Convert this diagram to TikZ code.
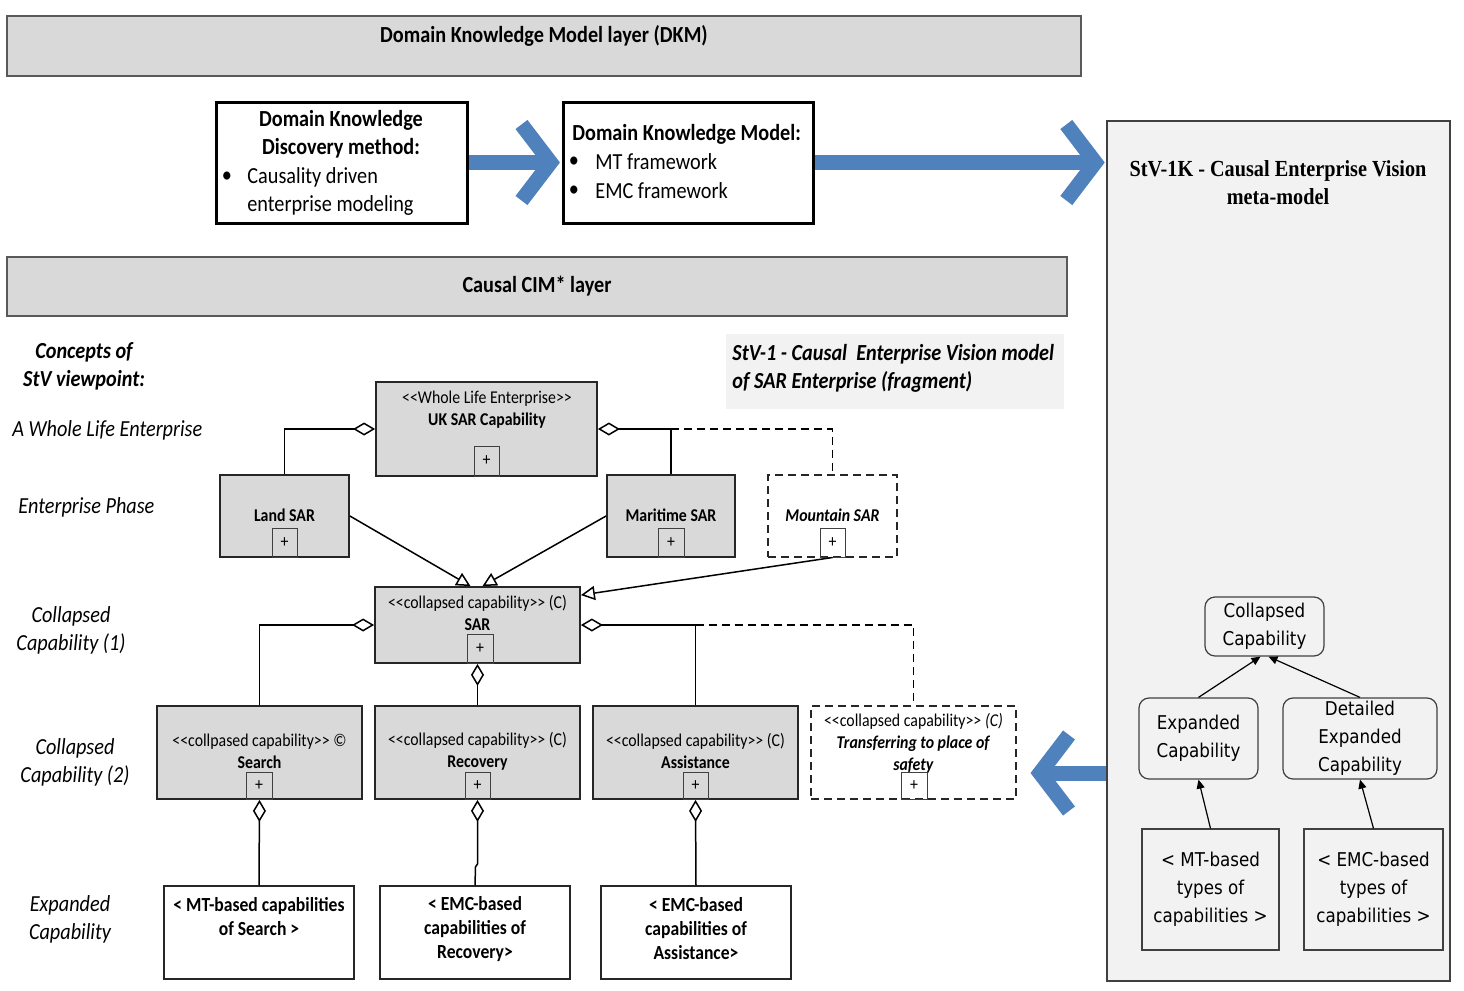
\documentclass[tikz,border=0pt]{standalone}
\usepackage{fontspec}
\setmainfont{Carlito}[FakeStretch=0.88]
\newfontfamily\serifttl{Liberation Serif}[FakeStretch=0.88]
\newfontfamily\metafont{DejaVu Sans}[FakeStretch=0.88]
\usetikzlibrary{arrows.meta,fit,calc}
\newcommand\myll{<\kern0pt<}
\newcommand\mygg{>\kern0pt>}
\definecolor{boxgray}{HTML}{D9D9D9}
\definecolor{hdrborder}{HTML}{595959}
\definecolor{arrowblue}{HTML}{4F81BD}
\definecolor{lightbg}{HTML}{F2F2F2}
\definecolor{umlborder}{HTML}{262626}
\definecolor{metaborder}{HTML}{404040}
\tikzset{
 hdr/.style={draw=hdrborder, line width=0.75pt, fill=boxgray, inner sep=0pt},
 dkbox/.style={draw=black, line width=1.5pt, fill=white, inner sep=0pt},
 blueline/.style={draw=arrowblue, line width=7.5pt},
 chev/.style={blueline, line join=miter, line cap=butt},
 uml/.style={draw=umlborder, line width=0.9pt, fill=boxgray, inner sep=0pt},
 umldash/.style={draw=umlborder, line width=0.9pt, dash pattern=on 4pt off 2.5pt, fill=white, inner sep=0pt},
 plusbox/.style={draw=metaborder, line width=0.5pt, inner sep=0pt},
 plustxt/.style={inner sep=0pt, font=\fontsize{9}{11}\selectfont},
 agg/.style={draw=black, line width=0.75pt, {Diamond[open,length=11pt,width=6.5pt]}-},
 gen/.style={draw=black, line width=0.75pt, -{Triangle[open,length=7pt,width=7pt]}},
 dline/.style={draw=black, line width=0.75pt, dash pattern=on 4pt off 2.5pt},
 expbox/.style={draw=umlborder, line width=0.6pt, fill=white, inner sep=0pt},
 metaframe/.style={draw=metaborder, line width=0.7pt, fill=lightbg, inner sep=0pt},
 metabox/.style={draw=metaborder, line width=0.6pt, rounded corners=5pt, inner sep=0pt},
 metasq/.style={draw=metaborder, line width=0.6pt, inner sep=0pt},
 metatxt/.style={inner sep=0pt, align=center, font=\metafont\fontsize{9.5}{14}\selectfont},
 metaarr/.style={draw=black, line width=0.6pt, -{Triangle[length=4.5pt,width=4pt]}},
 metattl/.style={inner sep=0pt, align=center, font=\serifttl\fontsize{11.5}{14}\selectfont\bfseries},
 tb/.style={inner sep=0pt, font=\fontsize{11.5}{14}\selectfont},
 tbb/.style={inner sep=0pt, font=\fontsize{11.5}{14}\selectfont\bfseries},
 tbi/.style={inner sep=0pt, font=\fontsize{11.5}{14}\selectfont\itshape},
 tbbi/.style={inner sep=0pt, font=\fontsize{11.5}{14}\selectfont\bfseries\itshape},
 umltxt/.style={inner sep=0pt, align=center, font=\fontsize{9}{11}\selectfont},
 umlb/.style={inner sep=0pt, font=\fontsize{9}{11}\selectfont\bfseries},
 umlbi/.style={inner sep=0pt, font=\fontsize{9}{11}\selectfont\bfseries\itshape},
 exptxt/.style={inner sep=0pt, align=center, font=\fontsize{10}{12}\selectfont\bfseries},
}
\begin{document}
\begin{tikzpicture}[x=0.5pt,y=-0.5pt]
\fill[white] (0,0) rectangle (1464,991);
\useasboundingbox (0,0) rectangle (1464,991);

% headers
\node[hdr, fit={(7,16) (1081,76)}] (dkm) {};
\node[tbb] (dkmt) at (544,36) {Domain Knowledge Model layer (DKM)};
\node[hdr, fit={(7,257) (1067,316)}] (cim) {};
\node[tbb] (cimt) at (537,286) {Causal CIM* layer};

% DK boxes
\node[dkbox, fit={(216,102) (467,223)}] (dk1) {};
\node[tbb, align=center] (dk1t) at (341,134) {Domain Knowledge\\Discovery method:};
\node[tb] (dk1b) at (227,177) {\textbullet};
\node[tb, anchor=west, align=left] (dk1l) at (247,191) {Causality driven\\enterprise modeling};

\node[dkbox, fit={(563,102) (813,223)}] (dk2) {};
\node[tbb, anchor=west] (dk2t) at (572,134) {Domain Knowledge Model:};
\node[tb] (dk2b1) at (574,162) {\textbullet};
\node[tb] (dk2b2) at (574,191) {\textbullet};
\node[tb, anchor=west] (dk2l1) at (595,162) {MT framework};
\node[tb, anchor=west] (dk2l2) at (595,191) {EMC framework};

% meta-model frame
\node[metaframe, fit={(1107,121) (1450,981)}] (meta) {};
\node[metattl] (metat) at (1278,183) {StV-1K - Causal Enterprise Vision\\meta-model};

% blue arrows
\draw[blueline] (dk1.east) -- ($(dk2.west)+(-11,0)$);
\draw[chev] ($(dk2.west)+(-40,-38)$) -- ($(dk2.west)+(-11,0)$) -- ($(dk2.west)+(-40,38)$);
\coordinate (m1) at (dk2.east -| meta.west);
\draw[blueline] (dk2.east) -- ($(m1)+(-11,0)$);
\draw[chev] ($(m1)+(-40,-38)$) -- ($(m1)+(-11,0)$) -- ($(m1)+(-40,38)$);
\coordinate (a3y) at (0,773);
\coordinate (a3s) at (meta.west |- a3y);
\coordinate (a3t) at (1029,773);
\draw[blueline] (a3s) -- ($(a3t)+(11,0)$);
\draw[chev] ($(a3t)+(40,-38)$) -- ($(a3t)+(11,0)$) -- ($(a3t)+(40,38)$);

% StV-1 label
\node[fill=lightbg, fit={(726,334) (1064,409)}, inner sep=0pt] (stv) {};
\node[tbbi, anchor=west, align=left] (stvt) at (732,368) {StV-1 - Causal\ \ Enterprise Vision model\\of SAR Enterprise (fragment)};

% left labels
\node[tbbi, align=center] (lc) at (84,366) {Concepts of\\StV viewpoint:};
\node[tbi, anchor=west] (lw) at (12,430) {A Whole Life Enterprise};
\node[tbi, anchor=west] (lp) at (18,507) {Enterprise Phase};
\node[tbi, align=center] (lc1) at (71,630) {Collapsed\\Capability (1)};
\node[tbi, align=center] (lc2) at (75,762) {Collapsed\\Capability (2)};
\node[tbi, align=center] (le) at (70,919) {Expanded\\Capability};

% UML level 1
\node[uml, fit={(376,382) (597,476)}] (uk) {};
\node[umltxt] (ukt) at (487,410) {\myll Whole Life Enterprise\mygg\\\textbf{UK SAR Capability}};
\node[plusbox, fit={(474,446) (499,476)}] (ukp) {};
\node[plustxt] (ukpt) at (ukp.center) {+};

\node[uml, fit={(220,475) (349,557)}] (land) {};
\node[umlb] (landt) at (284.5,515) {Land SAR};
\node[plusbox, fit={(272,528) (297,557)}] (landp) {};
\node[plustxt] (landpt) at (landp.center) {+};

\node[uml, fit={(607,475) (735,557)}] (mar) {};
\node[umlb] (mart) at (671,515) {Maritime SAR};
\node[plusbox, fit={(658,528) (684,557)}] (marp) {};
\node[plustxt] (marpt) at (marp.center) {+};

\node[umldash, fit={(768,475) (897,557)}] (mtn) {};
\node[umlbi] (mtnt) at (832.5,515) {Mountain SAR};
\node[plusbox, fit={(820,528) (845,557)}] (mtnp) {};
\node[plustxt] (mtnpt) at (mtnp.center) {+};

\node[uml, fit={(375,587) (580,663)}] (sar) {};
\node[umltxt] (sart) at (477.5,613) {\myll collapsed capability\mygg{} (C)\\\textbf{SAR}};
\node[plusbox, fit={(467,634) (493,663)}] (sarp) {};
\node[plustxt] (sarpt) at (sarp.center) {+};

% UML level 2
\node[uml, fit={(157,706) (362,799)}] (search) {};
\node[umltxt] (searcht) at (259.5,751) {\myll collpased capability\mygg{} ©\\\textbf{Search}};
\node[plusbox, fit={(246,772) (272,799)}] (searchp) {};
\node[plustxt] (searchpt) at (searchp.center) {+};

\node[uml, fit={(375,706) (580,799)}] (rec) {};
\node[umltxt] (rect) at (477.5,751) {\myll collapsed capability\mygg{} (C)\\\textbf{Recovery}};
\node[plusbox, fit={(465,772) (490,799)}] (recp) {};
\node[plustxt] (recpt) at (recp.center) {+};

\node[uml, fit={(593,706) (798,799)}] (assist) {};
\node[umltxt] (assistt) at (695.5,751) {\myll collapsed capability\mygg{} (C)\\\textbf{Assistance}};
\node[plusbox, fit={(683,772) (708,799)}] (assistp) {};
\node[plustxt] (assistpt) at (assistp.center) {+};

\node[umldash, fit={(811,706) (1016,799)}] (trans) {};
\node[umltxt] (transt) at (913.5,743) {\myll collapsed capability\mygg{} \textit{(C)}\\\textbf{\textit{Transferring to place of}}\\\textbf{\textit{safety}}};
\node[plusbox, fit={(901,772) (927,799)}] (transp) {};
\node[plustxt] (transpt) at (transp.center) {+};

% expanded boxes
\node[expbox, fit={(164,886) (354,979)}] (mtexp) {};
\node[exptxt] (mtexpt) at (259,916.5) {< MT-based capabilities\\of Search >};
\node[expbox, fit={(380,886) (570,979)}] (recexp) {};
\node[exptxt] (recexpt) at (475,929) {< EMC-based\\capabilities of\\Recovery>};
\node[expbox, fit={(601,886) (791,979)}] (asexp) {};
\node[exptxt] (asexpt) at (696,929) {< EMC-based\\capabilities of\\Assistance>};

% UML connectors
\draw[agg] (uk.west) -| (land.north);
\draw[agg] (uk.east) -| (mar.north);
\draw[dline] (mar.north |- uk.east) -| (mtn.north);
\draw[gen] (land.east) -- ($(sar.north)+(-7,0)$);
\draw[gen] (mar.west) -- ($(sar.north)+(5,0)$);
\draw[gen] (mtnp.south) -- ($(sar.north east)+(0,9)$);
\draw[agg] (sar.west) -| (search.north);
\draw[agg] (sar.east) -| (assist.north);
\draw[dline] (assist.north |- sar.east) -| (trans.north);
\draw[agg] (sar.south) -- (rec.north);
\draw[agg] (search.south) -- (mtexp.north);
\draw[agg] (rec.south) -- ++(0,64) -- ++(-2,3) -- (recexp.north);
\draw[agg] (assist.south) -- (asexp.north);

% meta-model nodes
\node[metabox, fit={(1205,597) (1324,656)}] (coll) {};
\node[metatxt] (collt) at (coll.center) {Collapsed\\Capability};
\node[metabox, fit={(1139,698) (1258,779)}] (exp) {};
\node[metatxt] (expt) at (exp.center) {Expanded\\Capability};
\node[metabox, fit={(1283,698) (1437,779)}] (det) {};
\node[metatxt] (dett) at (det.center) {Detailed\\Expanded\\Capability};
\node[metasq, fit={(1142,829) (1279,950)}] (mtb) {};
\node[metatxt] (mtbt) at (mtb.center) {< MT-based\\types of\\capabilities >};
\node[metasq, fit={(1304,829) (1443,950)}] (emb) {};
\node[metatxt] (embt) at (emb.center) {< EMC-based\\types of\\capabilities >};
\draw[metaarr] (exp.north) -- ($(coll.south)+(-4,0)$);
\draw[metaarr] (det.north) -- ($(coll.south)+(4,0)$);
\draw[metaarr] (mtb.north) -- (exp.south);
\draw[metaarr] (emb.north) -- (det.south);
\end{tikzpicture}
\end{document}
